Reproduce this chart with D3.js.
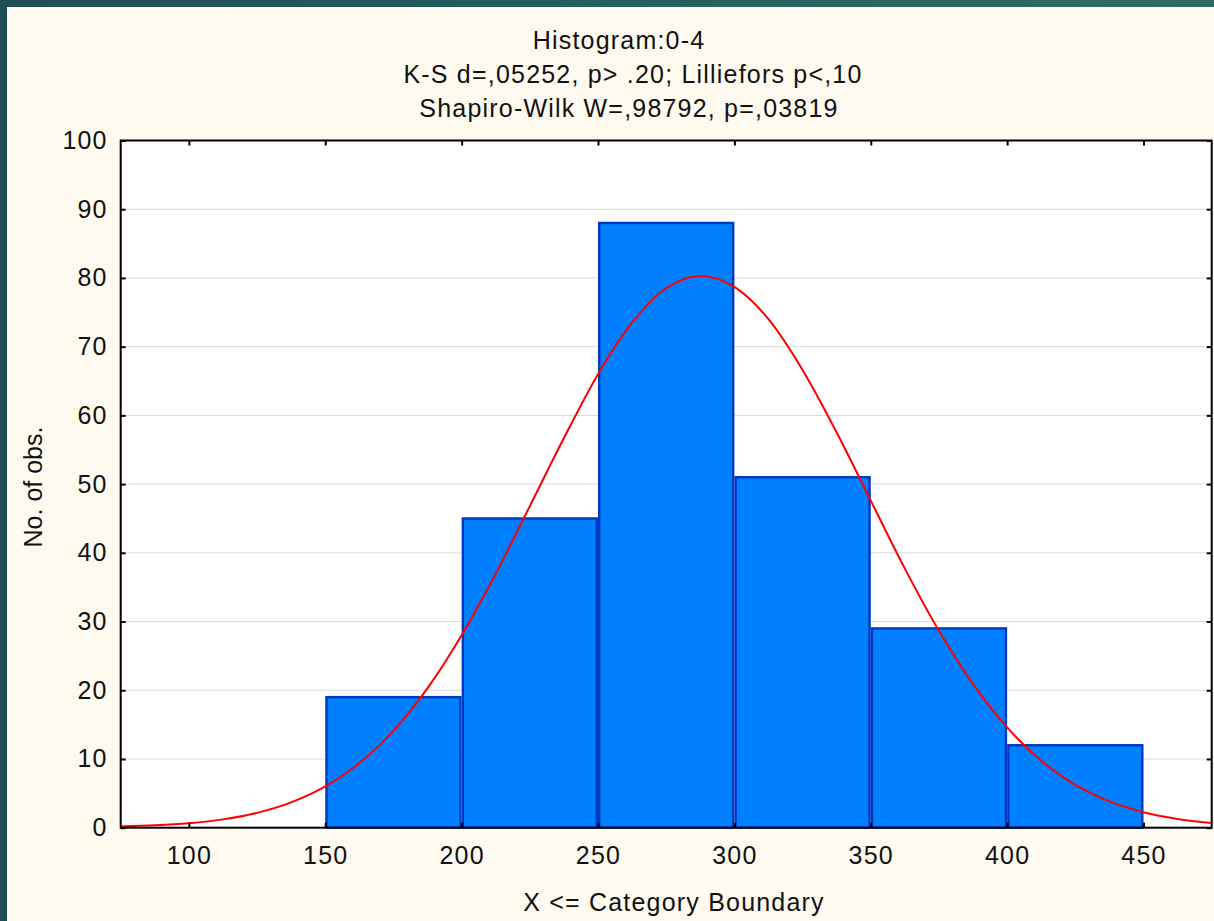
<!DOCTYPE html>
<html>
<head>
<meta charset="utf-8">
<script src="https://cdn.jsdelivr.net/npm/d3@7"></script>
<style>
  html, body { margin: 0; padding: 0; background: #fefaef; }
  svg { display: block; }
  text { font-family: "Liberation Sans", Arial, sans-serif; fill: #111; }
</style>
</head>
<body>
<svg id="chart" width="1214" height="921"></svg>
<script>
// ---- Data ----
const titleLines = ["Histogram:0-4", "K-S d=,05252, p> .20; Lilliefors p<,10", "Shapiro-Wilk W=,98792, p=,03819"];
const xLabel = "X <= Category Boundary";
const yLabel = "No. of obs.";
const binStarts = [150, 200, 250, 300, 350, 400];
const binEnds   = [200, 250, 300, 350, 400, 450];
const counts    = [19, 45, 88, 51, 29, 12];
const xTicks = [100, 150, 200, 250, 300, 350, 400, 450];
const yTicks = [0, 10, 20, 30, 40, 50, 60, 70, 80, 90, 100];
// expected normal curve
const curveX = [75, 87.5, 100, 112.5, 125, 137.5, 150, 162.5, 175, 187.5, 200, 212.5, 225, 237.5, 250, 262.5, 275, 287.5,
                300, 312.5, 325, 337.5, 350, 362.5, 375, 387.5, 400, 412.5, 425, 437.5, 450, 462.5, 475];
const curveY = [0.17, 0.34, 0.65, 1.21, 2.16, 3.68, 6.0, 9.41, 14.1, 20.3, 28.0, 36.95, 46.8, 56.7, 66.0, 73.5, 78.5, 80.3,
                78.7, 74.0, 66.6, 57.5, 47.6, 37.7, 28.65, 20.9, 14.6, 9.73, 6.24, 3.83, 2.25, 1.27, 0.69];

// ---- Layout ----
const W = 1214, H = 921;
const L = 120.7, R = 1211.7, T = 140.5, B = 827.7;
const FS = 25, LS = 1.2;
const svg = d3.select("#chart");

// background and frame
const defs = svg.append("defs");
const grad = defs.append("linearGradient").attr("id", "tealGrad").attr("x1", "0").attr("x2", "1").attr("y1", "0").attr("y2", "0");
grad.append("stop").attr("offset", "0").attr("stop-color", "#1f4f56");
grad.append("stop").attr("offset", "0.6").attr("stop-color", "#2a6260");
grad.append("stop").attr("offset", "1").attr("stop-color", "#2f6c67");
svg.append("rect").attr("x", 0).attr("y", 0).attr("width", W).attr("height", H).attr("fill", "#fefaef");
svg.append("rect").attr("x", 0).attr("y", 0).attr("width", W).attr("height", 7).attr("fill", "url(#tealGrad)");
svg.append("rect").attr("x", 0).attr("y", 0).attr("width", 7).attr("height", H).attr("fill", "#1f4f56");

const x = d3.scaleLinear().domain([75, 475]).range([L, R]);
const y = d3.scaleLinear().domain([0, 100]).range([B, T]);

// plot background
svg.append("rect").attr("x", L).attr("y", T).attr("width", R - L).attr("height", B - T).attr("fill", "#ffffff");

// gridlines
svg.append("g").selectAll("line").data(yTicks.filter(d => d > 0 && d < 100)).join("line")
  .attr("x1", L).attr("x2", R).attr("y1", d => y(d)).attr("y2", d => y(d))
  .attr("stroke", "#d9d9d9").attr("stroke-width", 1);

// bars
svg.append("g").selectAll("rect").data(counts).join("rect")
  .attr("x", (d, i) => x(binStarts[i]) + 1.2)
  .attr("width", (d, i) => x(binEnds[i]) - x(binStarts[i]) - 2.4)
  .attr("y", d => y(d))
  .attr("height", d => B - y(d))
  .attr("fill", "#0080ff")
  .attr("stroke", "#0038c0")
  .attr("stroke-width", 2.4);

// curve
const line = d3.line().x(d => x(d[0])).y(d => y(d[1])).curve(d3.curveMonotoneX);
svg.append("path").datum(curveX.map((v, i) => [v, curveY[i]]))
  .attr("d", line).attr("fill", "none").attr("stroke", "#ff0000").attr("stroke-width", 2);

// axes (ticks inward)
const tick = 5;
const axB = svg.append("g").attr("transform", `translate(0,${B})`).call(d3.axisBottom(x).tickValues(xTicks).tickSize(-tick).tickPadding(tick + 14).tickFormat(d3.format("d")));
const axT = svg.append("g").attr("transform", `translate(0,${T})`).call(d3.axisTop(x).tickValues(xTicks).tickSize(-tick).tickFormat(""));
const axL = svg.append("g").attr("transform", `translate(${L},0)`).call(d3.axisLeft(y).tickValues(yTicks).tickSize(-tick).tickPadding(tick + 8).tickFormat(d3.format("d")));
const axR = svg.append("g").attr("transform", `translate(${R},0)`).call(d3.axisRight(y).tickValues(yTicks).tickSize(-tick).tickFormat(""));
[axB, axT, axL, axR].forEach(a => {
  a.select(".domain").remove();
  a.selectAll(".tick line").attr("stroke", "#000").attr("stroke-width", 2);
  a.selectAll("text").attr("font-family", "Liberation Sans, Arial, sans-serif").attr("font-size", FS)
    .attr("letter-spacing", LS).attr("fill", "#111");
});
axB.selectAll("text").attr("dy", "0.71em");

// frame
svg.append("rect").attr("x", L).attr("y", T).attr("width", R - L).attr("height", B - T)
  .attr("fill", "none").attr("stroke", "#000").attr("stroke-width", 2);

// titles
const titleX = [619, 633, 629];
const titleY = [49, 83, 117];
svg.append("g").selectAll("text").data(titleLines).join("text")
  .attr("x", (d, i) => titleX[i]).attr("y", (d, i) => titleY[i])
  .attr("text-anchor", "middle").attr("font-size", FS).attr("letter-spacing", LS).text(d => d);

svg.append("text").attr("x", 674).attr("y", 911).attr("text-anchor", "middle").attr("font-size", FS)
  .attr("letter-spacing", LS).text(xLabel);
svg.append("text").attr("transform", "translate(42,487) rotate(-90)").attr("text-anchor", "middle").attr("font-size", FS).text(yLabel);
</script>
</body>
</html>
